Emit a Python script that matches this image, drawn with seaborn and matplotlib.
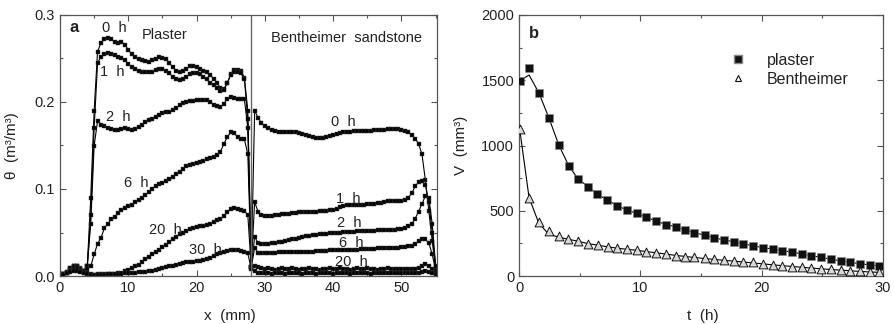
import matplotlib
matplotlib.use("Agg")
import matplotlib.pyplot as plt
from matplotlib.ticker import MultipleLocator, FormatStrFormatter
from matplotlib.lines import Line2D
import seaborn as sns

# ---- panel a: moisture profiles theta(x), sampled every 0.5 mm ----
x_mm = [0, 0.5, 1, 1.5, 2, 2.5, 3, 3.5, 4, 4.5, 5, 5.5, 6, 6.5, 7, 7.5, 8, 8.5, 9, 9.5,
        10, 10.5, 11, 11.5, 12, 12.5, 13, 13.5, 14, 14.5, 15, 15.5, 16, 16.5, 17, 17.5, 18, 18.5, 19, 19.5,
        20, 20.5, 21, 21.5, 22, 22.5, 23, 23.5, 24, 24.5, 25, 25.5, 26, 26.5, 27, 27.5, 28, 28.5, 29, 29.5,
        30, 30.5, 31, 31.5, 32, 32.5, 33, 33.5, 34, 34.5, 35, 35.5, 36, 36.5, 37, 37.5, 38, 38.5, 39, 39.5,
        40, 40.5, 41, 41.5, 42, 42.5, 43, 43.5, 44, 44.5, 45, 45.5, 46, 46.5, 47, 47.5, 48, 48.5, 49, 49.5,
        50, 50.5, 51, 51.5, 52, 52.5, 53, 53.5, 54, 54.5, 55]

theta_0h = [0, 0.002, 0.004, 0.008, 0.011, 0.012, 0.009, 0.006, 0.012, 0.09,
            0.19, 0.258, 0.268, 0.272, 0.273, 0.272, 0.269, 0.268, 0.269, 0.266,
            0.26, 0.255, 0.252, 0.25, 0.248, 0.247, 0.246, 0.248, 0.25, 0.252,
            0.251, 0.249, 0.245, 0.24, 0.236, 0.234, 0.236, 0.238, 0.241, 0.241,
            0.24, 0.238, 0.236, 0.234, 0.231, 0.227, 0.222, 0.216, 0.215, 0.222,
            0.232, 0.237, 0.237, 0.236, 0.228, 0.19, 0.01, 0.19, 0.182, 0.176,
            0.172, 0.17, 0.168, 0.167, 0.166, 0.166, 0.166, 0.165, 0.165, 0.165,
            0.164, 0.163, 0.162, 0.161, 0.16, 0.159, 0.159, 0.159, 0.16, 0.161,
            0.162, 0.163, 0.164, 0.165, 0.165, 0.166, 0.167, 0.167, 0.167, 0.167,
            0.167, 0.167, 0.168, 0.168, 0.168, 0.168, 0.169, 0.169, 0.169, 0.169,
            0.168, 0.167, 0.165, 0.162, 0.158, 0.152, 0.14, 0.11, 0.075, 0.04, 0.008]

theta_1h = [0, 0.002, 0.005, 0.009, 0.012, 0.011, 0.008, 0.006, 0.012, 0.07,
            0.17, 0.245, 0.252, 0.255, 0.256, 0.255, 0.254, 0.252, 0.251, 0.248,
            0.244, 0.24, 0.238, 0.236, 0.235, 0.234, 0.234, 0.235, 0.237, 0.238,
            0.238, 0.236, 0.233, 0.229, 0.226, 0.225, 0.226, 0.229, 0.232, 0.233,
            0.233, 0.232, 0.229, 0.226, 0.222, 0.219, 0.216, 0.213, 0.214, 0.222,
            0.231, 0.235, 0.235, 0.233, 0.226, 0.18, 0.01, 0.085, 0.074, 0.07,
            0.069, 0.069, 0.069, 0.07, 0.07, 0.071, 0.071, 0.071, 0.072, 0.072,
            0.073, 0.073, 0.073, 0.074, 0.074, 0.074, 0.075, 0.075, 0.075, 0.076,
            0.076, 0.077, 0.079, 0.081, 0.082, 0.082, 0.082, 0.082, 0.082, 0.082,
            0.083, 0.083, 0.083, 0.084, 0.084, 0.085, 0.086, 0.086, 0.086, 0.086,
            0.086, 0.087, 0.09, 0.095, 0.103, 0.108, 0.109, 0.105, 0.085, 0.05, 0.01]

theta_2h = [0, 0.002, 0.005, 0.009, 0.012, 0.011, 0.008, 0.006, 0.012, 0.06,
            0.15, 0.178, 0.174, 0.172, 0.17, 0.169, 0.168, 0.168, 0.169, 0.17,
            0.169, 0.168, 0.169, 0.171, 0.174, 0.177, 0.179, 0.181, 0.183, 0.185,
            0.187, 0.188, 0.189, 0.191, 0.193, 0.196, 0.199, 0.2, 0.201, 0.201,
            0.202, 0.202, 0.202, 0.202, 0.2, 0.197, 0.195, 0.194, 0.198, 0.204,
            0.206, 0.205, 0.204, 0.204, 0.203, 0.17, 0.01, 0.045, 0.038, 0.037,
            0.037, 0.037, 0.038, 0.038, 0.039, 0.039, 0.04, 0.041, 0.042, 0.043,
            0.044, 0.045, 0.046, 0.046, 0.047, 0.047, 0.048, 0.048, 0.048, 0.049,
            0.049, 0.05, 0.05, 0.051, 0.051, 0.051, 0.051, 0.052, 0.052, 0.052,
            0.052, 0.052, 0.052, 0.053, 0.053, 0.053, 0.053, 0.053, 0.053, 0.054,
            0.054, 0.055, 0.057, 0.06, 0.066, 0.074, 0.083, 0.092, 0.09, 0.06, 0.012]

theta_6h = [0, 0.002, 0.004, 0.007, 0.01, 0.01, 0.008, 0.006, 0.008, 0.011,
            0.025, 0.037, 0.044, 0.055, 0.06, 0.065, 0.068, 0.072, 0.076, 0.078,
            0.08, 0.082, 0.085, 0.087, 0.09, 0.093, 0.096, 0.1, 0.104, 0.106,
            0.107, 0.109, 0.111, 0.114, 0.117, 0.12, 0.123, 0.126, 0.128, 0.129,
            0.13, 0.131, 0.132, 0.134, 0.136, 0.137, 0.139, 0.143, 0.152, 0.16,
            0.165, 0.164, 0.16, 0.158, 0.157, 0.14, 0.01, 0.032, 0.027, 0.026,
            0.026, 0.026, 0.027, 0.027, 0.028, 0.028, 0.028, 0.028, 0.028, 0.028,
            0.028, 0.028, 0.028, 0.028, 0.028, 0.029, 0.029, 0.029, 0.029, 0.03,
            0.03, 0.03, 0.03, 0.03, 0.03, 0.03, 0.03, 0.03, 0.031, 0.031,
            0.031, 0.031, 0.031, 0.032, 0.032, 0.032, 0.032, 0.032, 0.032, 0.032,
            0.033, 0.033, 0.034, 0.035, 0.037, 0.04, 0.042, 0.042, 0.038, 0.025, 0.006]

theta_20h = [0, 0.002, 0.004, 0.006, 0.008, 0.008, 0.006, 0.004, 0.003, 0.002,
             0.001, 0.002, 0.002, 0.002, 0.002, 0.002, 0.002, 0.003, 0.004, 0.006,
             0.007, 0.009, 0.011, 0.013, 0.016, 0.019, 0.022, 0.025, 0.028, 0.03,
             0.033, 0.036, 0.039, 0.042, 0.045, 0.048, 0.05, 0.052, 0.054, 0.055,
             0.056, 0.057, 0.058, 0.059, 0.06, 0.062, 0.064, 0.066, 0.069, 0.073,
             0.077, 0.078, 0.077, 0.076, 0.075, 0.07, 0.01, 0.012, 0.01, 0.009,
             0.008, 0.009, 0.008, 0.007, 0.008, 0.009, 0.008, 0.008, 0.009, 0.008,
             0.007, 0.008, 0.008, 0.009, 0.008, 0.008, 0.007, 0.008, 0.008, 0.009,
             0.008, 0.008, 0.009, 0.008, 0.008, 0.007, 0.008, 0.009, 0.008, 0.008,
             0.009, 0.008, 0.008, 0.007, 0.008, 0.008, 0.009, 0.008, 0.008, 0.008,
             0.008, 0.008, 0.008, 0.008, 0.008, 0.009, 0.012, 0.014, 0.012, 0.008, 0.003]

theta_30h = [0, 0.001, 0.003, 0.005, 0.006, 0.006, 0.005, 0.003, 0.002, 0.001,
             0.001, 0.001, 0.001, 0.001, 0.002, 0.002, 0.002, 0.002, 0.002, 0.003,
             0.003, 0.004, 0.004, 0.005, 0.005, 0.005, 0.006, 0.006, 0.007, 0.008,
             0.009, 0.01, 0.011, 0.012, 0.013, 0.014, 0.015, 0.016, 0.016, 0.016,
             0.017, 0.017, 0.018, 0.019, 0.021, 0.023, 0.025, 0.027, 0.028, 0.029,
             0.03, 0.03, 0.03, 0.029, 0.028, 0.026, 0.008, 0.006, 0.004, 0.003,
             0.003, 0.003, 0.002, 0.003, 0.003, 0.003, 0.002, 0.003, 0.003, 0.003,
             0.003, 0.002, 0.003, 0.003, 0.003, 0.002, 0.003, 0.003, 0.003, 0.003,
             0.002, 0.003, 0.003, 0.003, 0.003, 0.002, 0.003, 0.003, 0.003, 0.003,
             0.003, 0.002, 0.003, 0.003, 0.003, 0.003, 0.003, 0.003, 0.003, 0.003,
             0.003, 0.003, 0.003, 0.003, 0.004, 0.004, 0.005, 0.006, 0.005, 0.003, 0.001]

profiles = [theta_0h, theta_1h, theta_2h, theta_6h, theta_20h, theta_30h]

# curve labels: (text, x, theta)
labels_a = [("0  h", 8.0, 0.285), ("1  h", 7.7, 0.234), ("2  h", 8.5, 0.183),
            ("6  h", 11.1, 0.107), ("20  h", 15.5, 0.053), ("30  h", 21.3, 0.030),
            ("0  h", 41.5, 0.177), ("1  h", 42.2, 0.089), ("2  h", 42.4, 0.061),
            ("6  h", 42.6, 0.038), ("20  h", 42.6, 0.016)]
interface_mm = 28

# ---- panel b: absorbed volume V(t) ----
t_plaster = [0.1, 0.83, 1.63, 2.48, 3.28, 4.1, 4.87, 5.7, 6.44, 7.27, 8.1, 8.87, 9.7,
             10.5, 11.3, 12.1, 12.9, 13.7, 14.4, 15.3, 16.1, 16.9, 17.7, 18.5, 19.3,
             20.1, 20.9, 21.7, 22.5, 23.3, 24.1, 24.9, 25.7, 26.5, 27.3, 28.1, 28.9, 29.7]
v_plaster = [1494, 1596, 1405, 1208, 1004, 845, 743, 685, 628, 582, 539, 506, 480,
             450, 421, 391, 378, 352, 332, 314, 289, 276, 263, 245, 232,
             217, 207, 194, 186, 169, 153, 143, 128, 117, 105, 92, 84, 79]
v_plaster_fit = [1500, 1540, 1405, 1208, 1004, 845, 743, 685, 628, 582, 539, 506, 480,
                 450, 421, 395, 378, 352, 332, 314, 292, 276, 263, 245, 232,
                 217, 207, 194, 184, 169, 155, 143, 128, 117, 105, 94, 85, 78]

t_benth = [0.05, 0.83, 1.63, 2.45, 3.28, 4.05, 4.87, 5.7, 6.5, 7.3, 8.1, 8.87, 9.7,
           10.5, 11.3, 12.1, 12.9, 13.7, 14.4, 15.3, 16.1, 16.9, 17.7, 18.5, 19.3,
           20.1, 20.9, 21.7, 22.5, 23.3, 24.1, 24.9, 25.7, 26.5, 27.3, 28.1, 28.9, 29.7]
v_benth = [1125, 595, 416, 347, 307, 286, 268, 245, 238, 225, 212, 207, 199,
           186, 178, 166, 156, 148, 143, 135, 128, 123, 117, 110, 105,
           92, 84, 77, 71, 67, 59, 54, 51, 44, 41, 36, 31, 31]
v_benth_fit = [1130, 600, 405, 320, 298, 282, 266, 248, 236, 224, 213, 205, 197,
               187, 178, 168, 158, 150, 142, 134, 127, 120, 114, 107, 100,
               93, 86, 79, 73, 67, 61, 55, 50, 45, 40, 35, 31, 28]

sns.set_style("ticks")
plt.rcParams['font.family'] = ['Liberation Sans', 'DejaVu Sans']
ink = '#222222'
spine = '#555555'

fig = plt.figure(figsize=(8.94, 3.24), dpi=100)
ax_a = fig.add_axes([60 / 894, 48 / 324, 377 / 894, 261 / 324])
ax_b = fig.add_axes([519 / 894, 48 / 324, 364 / 894, 261 / 324])

for vals in profiles:
    sns.lineplot(x=x_mm, y=vals, ax=ax_a, color='black', linewidth=0.8,
                 marker='s', markersize=2.6, markeredgewidth=0.3,
                 markeredgecolor='#444444', sort=False, estimator=None)
ax_a.axvline(interface_mm, color='#666666', linewidth=1.0)

for txt, xx, yy in labels_a:
    ax_a.text(xx, yy, txt, ha='center', va='center', fontsize=10.5, color=ink)
ax_a.text(15.3, 0.277, "Plaster", ha='center', va='center', fontsize=10.5, color=ink)
ax_a.text(41.9, 0.273, "Bentheimer  sandstone", ha='center', va='center',
          fontsize=10.5, color=ink)
ax_a.text(2.0, 0.286, "a", ha='center', va='center', fontsize=12,
          fontweight='bold', color=ink)

ax_a.set_xlim(0, 55.2)
ax_a.set_ylim(0, 0.3)
ax_a.xaxis.set_major_locator(MultipleLocator(10))
ax_a.xaxis.set_minor_locator(MultipleLocator(5))
ax_a.yaxis.set_major_locator(MultipleLocator(0.1))
ax_a.yaxis.set_minor_locator(MultipleLocator(0.05))
ax_a.yaxis.set_major_formatter(FormatStrFormatter('%.1f'))
ax_a.set_xlabel("x  (mm)", fontsize=11, color=ink)
ax_a.set_ylabel("θ  (m³/m³)", fontsize=11, color=ink)
ax_a.xaxis.set_label_coords(0.45, -0.125)
ax_a.yaxis.set_label_coords(-0.109, 0.5)

# panel b
sns.lineplot(x=t_plaster, y=v_plaster_fit, ax=ax_b, color='black', linewidth=0.8,
             sort=False, estimator=None)
sns.lineplot(x=t_benth, y=v_benth_fit, ax=ax_b, color='black', linewidth=0.8,
             sort=False, estimator=None)
sns.scatterplot(x=t_plaster, y=v_plaster, ax=ax_b, marker='s', s=34,
                color='#111111', edgecolor='#888888', linewidth=0.4, zorder=3)
sns.scatterplot(x=t_benth, y=v_benth, ax=ax_b, marker='^', s=40,
                color='#d9d9d9', edgecolor='#111111', linewidth=0.7, zorder=3)

handles = [Line2D([], [], linestyle='none', marker='s', markersize=5.5,
                  markerfacecolor='#111111', markeredgecolor='#888888'),
           Line2D([], [], linestyle='none', marker='^', markersize=5,
                  markerfacecolor='white', markeredgecolor='#111111', markeredgewidth=0.8)]
ax_b.legend(handles, ["plaster", "Bentheimer"], loc='center left',
            bbox_to_anchor=(0.54, 0.79), frameon=False, fontsize=11.5,
            handlelength=1.0, handletextpad=1.3, labelspacing=0.25, labelcolor=ink)
ax_b.text(1.2, 1860, "b", ha='center', va='center', fontsize=12,
          fontweight='bold', color=ink)

ax_b.set_xlim(0, 30)
ax_b.set_ylim(0, 2000)
ax_b.xaxis.set_major_locator(MultipleLocator(10))
ax_b.xaxis.set_minor_locator(MultipleLocator(5))
ax_b.yaxis.set_major_locator(MultipleLocator(500))
ax_b.yaxis.set_minor_locator(MultipleLocator(250))
ax_b.set_xlabel("t  (h)", fontsize=11, color=ink)
ax_b.set_ylabel("V  (mm³)", fontsize=11, color=ink)
ax_b.xaxis.set_label_coords(0.506, -0.125)
ax_b.yaxis.set_label_coords(-0.14, 0.5)

for ax in (ax_a, ax_b):
    ax.tick_params(which='both', direction='in', top=True, right=True,
                   colors=spine, labelcolor=ink, labelsize=10.5, width=0.8)
    ax.tick_params(which='major', length=4)
    ax.tick_params(which='minor', length=2.5)
    for s in ax.spines.values():
        s.set_color(spine)
        s.set_linewidth(0.9)

fig.savefig("out.png", dpi=100)
